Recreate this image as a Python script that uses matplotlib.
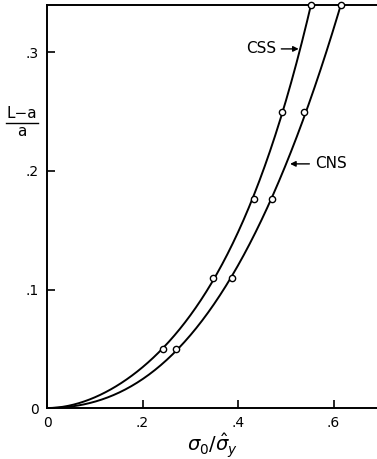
import numpy as np
import matplotlib
matplotlib.use("Agg")
import matplotlib.pyplot as plt
from matplotlib.lines import Line2D

# values
stress_css = [0.243, 0.348, 0.433, 0.4915, 0.553]
stress_cns = [0.270, 0.387, 0.472, 0.539, 0.616]
crack_len = [0.05, 0.11, 0.176, 0.25, 0.34]

x_ticks = [0, 0.2, 0.4, 0.6]
x_tick_labels = ["0", ".2", ".4", ".6"]
y_ticks = [0, 0.1, 0.2, 0.3]
y_tick_labels = ["0", ".1", ".2", ".3"]


def smooth_curve(xs, ys, x_max):
    # least squares fit y = a x^2 + b x^3 + c x^4 (passes through origin)
    xs = np.asarray(xs)
    A = np.vstack([xs**2, xs**3, xs**4]).T
    coef, *_ = np.linalg.lstsq(A, np.asarray(ys), rcond=None)
    xx = np.linspace(0, x_max, 200)
    yy = coef[0] * xx**2 + coef[1] * xx**3 + coef[2] * xx**4
    return xx, yy


plt.rcParams["font.family"] = ["DejaVu Sans"]
plt.rcParams["mathtext.fontset"] = "dejavusans"

fig = plt.figure(figsize=(3.77, 4.59), dpi=100)
ax = fig.add_axes([0.1247, 0.111, 0.8753, 0.878])

for xs in (stress_css, stress_cns):
    xx, yy = smooth_curve(xs, crack_len, xs[-1])
    ax.plot(xx, yy, color="black", lw=1.4)
    ax.plot(xs, crack_len, "o", ms=4.5, mfc="white", mec="black", mew=1.0,
            clip_on=False, zorder=3)

ax.set_xlim(0, 0.691)
ax.set_ylim(0, 0.34)
ax.spines["right"].set_visible(False)
for s in ("left", "bottom", "top"):
    ax.spines[s].set_linewidth(1.4)

ax.set_xticks(x_ticks)
ax.set_xticklabels(x_tick_labels)
ax.set_yticks(y_ticks)
ax.set_yticklabels(y_tick_labels)
ax.tick_params(direction="in", length=6, width=1.2, labelsize=10, pad=6)

ax.annotate("CSS", xy=(0.527, 0.303), xytext=(0.479, 0.303),
            ha="right", va="center", fontsize=11,
            arrowprops=dict(arrowstyle="-|>", color="black", lw=1.0,
                            mutation_scale=8, shrinkA=2, shrinkB=0))
ax.annotate("CNS", xy=(0.509, 0.206), xytext=(0.561, 0.206),
            ha="left", va="center", fontsize=11,
            arrowprops=dict(arrowstyle="-|>", color="black", lw=1.0,
                            mutation_scale=8, shrinkA=2, shrinkB=0))

ax.set_xlabel(r"$\sigma_0/\hat{\sigma}_y$", fontsize=14, labelpad=1)

# y label drawn as a stacked fraction
fig.text(0.058, 0.752, "L\u2212a", fontsize=11, ha="center", va="center")
fig.text(0.058, 0.714, "a", fontsize=11, ha="center", va="center")
fig.add_artist(Line2D([0.016, 0.100], [0.733, 0.733], color="black", lw=1.0,
                      transform=fig.transFigure))

fig.savefig("out.png", dpi=100)
